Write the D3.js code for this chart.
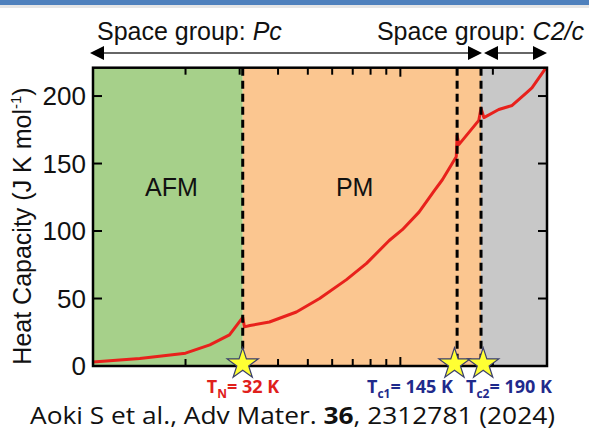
<!DOCTYPE html>
<html><head><meta charset="utf-8">
<script src="https://cdn.jsdelivr.net/npm/d3@7"></script>
<style>body{margin:0;background:#fff;} svg{display:block;}</style>
</head><body>
<svg id="c" width="589" height="435"></svg>
<script>
// ---- data ----
const temps = [10, 14.2, 20, 24, 27.8, 30.7, 31.1, 32.4, 37.5, 45.9, 54.6, 66.8, 77.6, 92, 101.5, 115, 129, 137, 152, 153, 155, 180, 183, 187, 209, 231, 256, 268, 298];
const heatCap = [3, 5.5, 9.5, 15.6, 23, 36, 29, 30, 32.6, 40, 50, 64, 76, 93, 101, 114, 130, 138, 155, 171, 164, 182, 191, 184, 190, 193, 202, 206, 221];
const transitionT = [30.7, 153, 183];
const starT = [30.7, 150, 186];
const regionNames = ["AFM", "PM", ""];
const regionLabelT = [18, 71];
const yTicks = [0, 50, 100, 150, 200];
const xTicks = [20, 30, 40, 50, 60, 70, 80, 90, 100, 200];

const svg = d3.select("#c");
const L = 93, R = 547, T = 67.7, B = 366;
const x = d3.scaleLog().domain([10, 300]).range([L, R]);
const y = d3.scaleLinear().domain([0, 221]).range([B, T]);
const ARIAL = "Liberation Sans, Arial, sans-serif";

// top banner
svg.append("rect").attr("x",0).attr("y",0).attr("width",589).attr("height",5).attr("fill","#4f81bd");
svg.append("rect").attr("x",0).attr("y",5).attr("width",589).attr("height",3).attr("fill","#e6e6e6");

// regions
const bounds = [10, transitionT[0], transitionT[2], 300];
const regionColors = ["#a6d08a", "#fbc690", "#c8c8c8"];
for (let i = 0; i < 3; i++) {
  svg.append("rect").attr("x", x(bounds[i])).attr("y", T)
    .attr("width", x(bounds[i+1]) - x(bounds[i])).attr("height", B - T)
    .attr("fill", regionColors[i]);
}
regionLabelT.forEach((t,i)=>{
  svg.append("text").attr("x", x(t)).attr("y", y(126)).attr("text-anchor","middle")
    .attr("font-family",ARIAL).attr("font-size",25).attr("fill","#111")
    .text(regionNames[i]);
});

// curve
const line = d3.line().x((d,i)=>x(temps[i])).y((d,i)=>y(heatCap[i])).curve(d3.curveLinear);
svg.append("path").attr("d", line(heatCap)).attr("fill","none").attr("stroke","#e8211c")
  .attr("stroke-width",3).attr("stroke-linejoin","round");

// dashed lines
transitionT.forEach(t=>{
  svg.append("line").attr("x1",x(t)).attr("x2",x(t)).attr("y1",T).attr("y2",B)
    .attr("stroke","#000").attr("stroke-width",3).attr("stroke-dasharray","8,5");
});

// ticks
const tickG = svg.append("g").attr("stroke","#000").attr("stroke-width",2);
xTicks.forEach(t=>{
  const len = t===100 ? 9 : 7;
  tickG.append("line").attr("x1",x(t)).attr("x2",x(t)).attr("y1",B).attr("y2",B-len);
  tickG.append("line").attr("x1",x(t)).attr("x2",x(t)).attr("y1",T).attr("y2",T+len);
});
yTicks.forEach(v=>{
  tickG.append("line").attr("x1",L).attr("x2",L+9).attr("y1",y(v)).attr("y2",y(v));
  if (v>0) tickG.append("line").attr("x1",R).attr("x2",R-9).attr("y1",y(v)).attr("y2",y(v));
  svg.append("text").attr("x",86).attr("y",y(v)).attr("dy","0.36em").attr("text-anchor","end")
    .attr("font-family",ARIAL).attr("font-size",26).attr("fill","#111").text(v);
});

// frame
svg.append("rect").attr("x",L).attr("y",T).attr("width",R-L).attr("height",B-T)
  .attr("fill","none").attr("stroke","#000").attr("stroke-width",2.5);

// y label
const yl = svg.append("text").attr("transform",`translate(31,226) rotate(-90)`)
  .attr("text-anchor","middle").attr("font-family",ARIAL).attr("font-size",25).attr("fill","#111");
yl.append("tspan").text("Heat Capacity (J K mol");
yl.append("tspan").attr("font-size",15).attr("dy",-10).text("-1");
yl.append("tspan").attr("dy",10).text(")");

// stars
const star = d3.symbol().type(d3.symbolStar).size(300);
starT.forEach(t=>{
  svg.append("path").attr("d", star()).attr("transform",`translate(${x(t)},${B-2})`)
    .attr("fill","#ffff33").attr("stroke","#3a3f6a").attr("stroke-width",1.2);
});

// transition labels
const labels = [
  {main:"T", sub:"N", rest:"= 32 K", color:"#e0201c"},
  {main:"T", sub:"c1", rest:"= 145 K", color:"#1f2a8c"},
  {main:"T", sub:"c2", rest:"= 190 K", color:"#1f2a8c"}
];
const labelX = [243, 410, 509];
labels.forEach((l,i)=>{
  const tx = svg.append("text").attr("x", labelX[i]).attr("y", 393).attr("text-anchor","middle")
    .attr("font-family","Open Sans, Lato, sans-serif").attr("font-weight","bold").attr("font-size",18).attr("fill", l.color);
  tx.append("tspan").text(l.main);
  tx.append("tspan").attr("font-size",12).attr("dy",5).text(l.sub);
  tx.append("tspan").attr("dy",-5).text(l.rest);
});

// space group arrows
function arrowHead(xTip, yy, dir) {
  const hl = 14, hw = 7;
  svg.append("path").attr("d", `M${xTip},${yy} L${xTip - dir*hl},${yy-hw} L${xTip - dir*hl},${yy+hw} Z`).attr("fill","#000");
}
const ay = 53;
svg.append("line").attr("x1",92).attr("x2",470).attr("y1",ay).attr("y2",ay).attr("stroke","#666").attr("stroke-width",1.8);
arrowHead(90, ay, -1); arrowHead(482, ay, 1);
svg.append("line").attr("x1",497).attr("x2",534).attr("y1",ay).attr("y2",ay).attr("stroke","#666").attr("stroke-width",1.8);
arrowHead(484, ay, -1); arrowHead(547, ay, 1);

const sg1 = svg.append("text").attr("x",97).attr("y",40).attr("font-family",ARIAL).attr("font-size",25).attr("fill","#111");
sg1.append("tspan").text("Space group: ");
sg1.append("tspan").attr("font-style","italic").text("Pc");
const sg2 = svg.append("text").attr("x",584).attr("y",40).attr("text-anchor","end").attr("font-family",ARIAL).attr("font-size",25).attr("fill","#111");
sg2.append("tspan").text("Space group: ");
sg2.append("tspan").attr("font-style","italic").text("C2/c");

// caption
const cap = svg.append("text").attr("x",30).attr("y",424)
  .attr("font-family","Open Sans, Lato, sans-serif").attr("font-size",24).attr("fill","#111")
  .attr("textLength",525).attr("lengthAdjust","spacingAndGlyphs");
cap.append("tspan").text("Aoki S et al., Adv Mater. ");
cap.append("tspan").attr("font-weight","bold").text("36");
cap.append("tspan").text(", 2312781 (2024)");
</script>
</body></html>
